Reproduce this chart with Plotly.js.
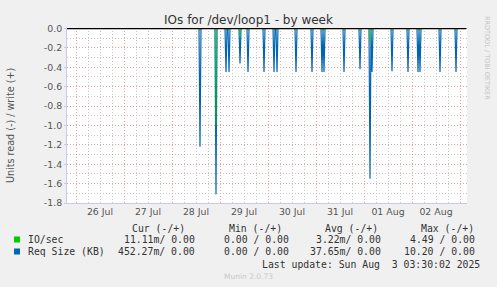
<!DOCTYPE html>
<html>
<head>
<meta charset="utf-8">
<script src="https://cdn.plot.ly/plotly-3.0.1.min.js"></script>
<style>html,body{margin:0;padding:0;background:#f0f0f0;}#chart{width:497px;height:287px;}</style>
</head>
<body>
<div id="chart"></div>
<script>
// ---- data ----
const rangeStart = '2025-07-25 19:30';
const rangeEnd = '2025-08-03 03:30';
const spikeTimes = ['2025-07-28 14:00','2025-07-28 22:00','2025-07-29 03:00','2025-07-29 04:30','2025-07-29 10:00',
  '2025-07-29 14:00','2025-07-29 22:00','2025-07-30 03:00','2025-07-30 04:30','2025-07-30 14:00','2025-07-30 22:00',
  '2025-07-31 03:00','2025-07-31 04:00','2025-07-31 14:00','2025-07-31 22:00','2025-08-01 03:00','2025-08-01 04:00',
  '2025-08-01 14:00','2025-08-01 22:00','2025-08-02 03:00','2025-08-02 04:00','2025-08-02 14:00','2025-08-02 22:00'];
const reqSizeRead = [-1.22,-1.71,-0.45,-0.45,-0.36,-0.45,-0.45,-0.45,-0.45,-0.45,-0.45,
  -0.45,-0.45,-0.45,-0.42,-1.55,-0.45,-0.44,-0.45,-0.45,-0.45,-0.45,-0.45];
const ioSecRead = [-0.02,-1.0,-0.02,-0.02,-0.09,-0.02,-0.02,-0.02,-0.02,-0.02,-0.02,
  -0.02,-0.02,-0.02,-0.02,-0.14,-0.02,-0.02,-0.02,-0.02,-0.02,-0.02,-0.02];
const yTickVals = [0,-0.2,-0.4,-0.6,-0.8,-1.0,-1.2,-1.4,-1.6,-1.8];
const yTickText = ['0.0','-0.2','-0.4','-0.6','-0.8','-1.0','-1.2','-1.4','-1.6','-1.8'];
const legendNames = ['IO/sec','Req Size (KB)'];
const legendColors = ['#00cc00','#0066b3'];
const colHeaders = ['Cur (-/+)','Min (-/+)','Avg (-/+)','Max (-/+)'];
const ioStats = ['11.11m/ 0.00','0.00 / 0.00','3.22m/ 0.00','4.49 / 0.00'];
const reqStats = ['452.27m/ 0.00','0.00 / 0.00','37.65m/ 0.00','10.20 / 0.00'];
const lastUpdate = 'Last update: Sun Aug  3 03:30:02 2025';

// ---- build 30-minute series ----
function toMs(s){const [d,t]=s.split(' ');const [Y,M,D]=d.split('-').map(Number);const [h,m]=t.split(':').map(Number);return Date.UTC(Y,M-1,D,h,m);}
function fmt(ms){const d=new Date(ms);const p=n=>String(n).padStart(2,'0');
  return d.getUTCFullYear()+'-'+p(d.getUTCMonth()+1)+'-'+p(d.getUTCDate())+' '+p(d.getUTCHours())+':'+p(d.getUTCMinutes());}
const step = 30*60*1000;
function series(vals){
  const map = {}; spikeTimes.forEach((t,i)=>map[toMs(t)]=vals[i]);
  const xs=[], ys=[];
  for(let t=toMs(rangeStart); t<=toMs(rangeEnd); t+=step){xs.push(fmt(t)); ys.push(map[t]!==undefined?map[t]:0);}
  return {xs, ys};
}
const req = series(reqSizeRead), io = series(ioSecRead);

const traces = [
  {x:req.xs, y:req.ys, type:'scatter', mode:'lines', line:{color:legendColors[1], width:1.2}, hoverinfo:'skip'},
  {x:io.xs, y:io.ys, type:'scatter', mode:'lines', line:{color:'rgba(0,204,0,0.55)', width:1}, hoverinfo:'skip'}
];

// pixel helpers (plot area: x 67..467, y 28..203)
const L=67, R=467, T=28, B=203;
const px = X => (X-L)/(R-L);
const py = Y => (B-Y)/(B-T);
const mono = {family:'DejaVu Sans Mono', size:9.8, color:'#333'};
const ann = [];
const hdrRight = [187,284,380,476];
colHeaders.forEach((h,i)=>ann.push({xref:'paper',yref:'paper',x:px(hdrRight[i]),y:py(228),xanchor:'right',yanchor:'middle',text:h,showarrow:false,font:mono}));
const colRight = [197,291,383,477];
legendNames.forEach((n,r)=>{
  const Y = r===0?239.5:251.5;
  ann.push({xref:'paper',yref:'paper',x:px(26),y:py(Y),xanchor:'left',yanchor:'middle',text:n,showarrow:false,font:mono});
  const st = r===0?ioStats:reqStats;
  st.forEach((s,i)=>ann.push({xref:'paper',yref:'paper',x:px(colRight[i]),y:py(Y),xanchor:'right',yanchor:'middle',text:s,showarrow:false,font:mono}));
});
ann.push({xref:'paper',yref:'paper',x:px(482),y:py(264),xanchor:'right',yanchor:'middle',text:lastUpdate,showarrow:false,font:mono});
ann.push({xref:'paper',yref:'paper',x:px(248),y:py(276),xanchor:'center',yanchor:'middle',text:'Munin 2.0.73',showarrow:false,font:{family:'DejaVu Sans',size:7.5,color:'#c8c8c8'}});
ann.push({xref:'paper',yref:'paper',x:px(487),y:py(58),xanchor:'center',yanchor:'middle',text:'RRDTOOL / TOBI OETIKER',textangle:90,showarrow:false,font:{family:'DejaVu Sans',size:6.5,color:'#c4c4c4'}});
ann.push({xref:'paper',yref:'paper',x:px(10),y:py(126),xanchor:'center',yanchor:'middle',text:'Units read (-) / write (+)',textangle:-90,showarrow:false,font:{family:'DejaVu Sans',size:9.6,color:'#555'}});

const shapes = [
  {type:'rect',xref:'paper',yref:'paper',x0:px(14),x1:px(20),y0:py(242.5),y1:py(236.5),fillcolor:legendColors[0],line:{width:0}},
  {type:'rect',xref:'paper',yref:'paper',x0:px(14),x1:px(20),y0:py(254.5),y1:py(248.5),fillcolor:legendColors[1],line:{width:0}},
  {type:'line',xref:'paper',yref:'y',x0:0,x1:(466-L)/(R-L),y0:0,y1:0,layer:'above',line:{color:'#000',width:1.5}}
];

const layout = {
  width:497, height:287,
  margin:{l:L, r:497-R, t:T, b:287-B, pad:0},
  paper_bgcolor:'#f0f0f0', plot_bgcolor:'#ffffff',
  showlegend:false,
  title:{text:'IOs for /dev/loop1 - by week', font:{family:'DejaVu Sans', size:12, color:'#333'}, x:0.5, xanchor:'center', xref:'container', y:1-20/287, yref:'container', yanchor:'middle'},
  xaxis:{type:'date', range:[rangeStart, rangeEnd], tick0:'2025-07-26 00:00', dtick:86400000, ticklabelmode:'period', tickformat:'%d %b',
    showgrid:true, gridcolor:'#e4a0a0', griddash:'1px,2px', gridwidth:1,
    minor:{dtick:6*3600*1000, showgrid:true, gridcolor:'#c8c8c8', griddash:'1px,2px', gridwidth:1},
    ticks:'', showline:true, linecolor:'#c8c8f0', linewidth:1, zeroline:false,
    tickfont:{family:'DejaVu Sans', size:9.4, color:'#555'}},
  yaxis:{range:[-1.8, 0.005], tickmode:'array', tickvals:yTickVals, ticktext:yTickText,
    showgrid:true, gridcolor:'#e4a0a0', griddash:'1px,2px', gridwidth:1,
    minor:{dtick:0.1, tick0:0, showgrid:true, gridcolor:'#c8c8c8', griddash:'1px,2px', gridwidth:1},
    ticks:'outside', ticklen:2, tickcolor:'#c8c8f0', showline:true, linecolor:'#c8c8f0', linewidth:1, zeroline:false,
    tickfont:{family:'DejaVu Sans', size:9.4, color:'#555'}},
  annotations:ann, shapes:shapes
};
Plotly.newPlot('chart', traces, layout, {staticPlot:true, displayModeBar:false});
</script>
</body>
</html>
